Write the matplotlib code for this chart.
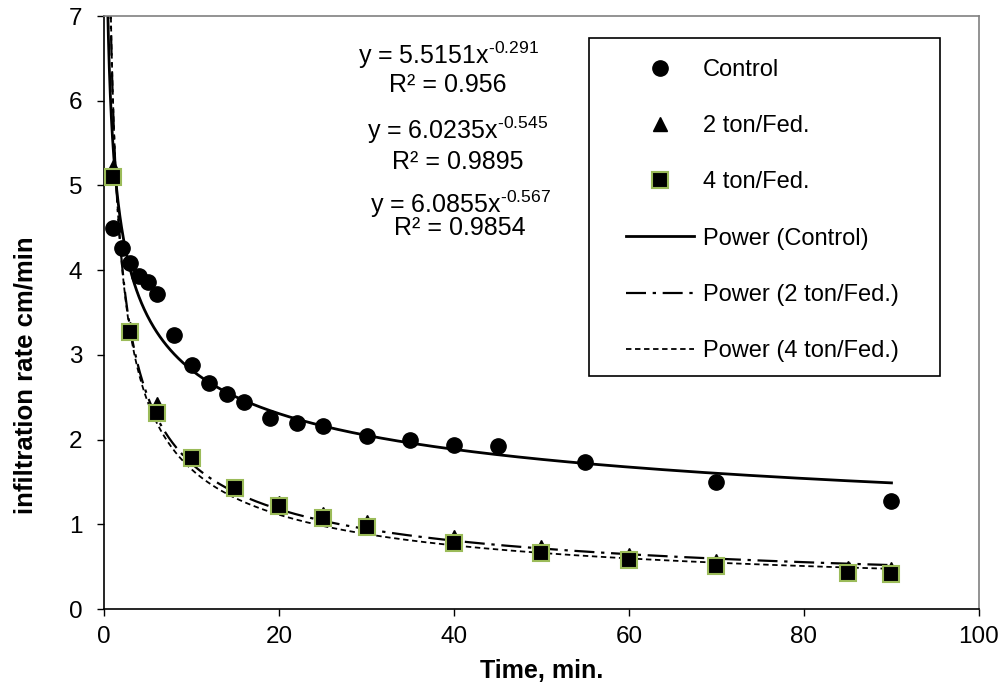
import numpy as np
import matplotlib
matplotlib.use("Agg")
import matplotlib.pyplot as plt
from matplotlib.lines import Line2D
from matplotlib.patches import Rectangle

plt.rcParams['font.family'] = ['Liberation Sans', 'DejaVu Sans']
plt.rcParams['mathtext.fontset'] = 'custom'
plt.rcParams['mathtext.rm'] = 'Liberation Sans'
plt.rcParams['mathtext.default'] = 'regular'

# data
x_control = [1, 2, 3, 4, 5, 6, 8, 10, 12, 14, 16, 19, 22, 25, 30, 35, 40, 45, 55, 70, 90]
y_control = [4.50, 4.26, 4.09, 3.93, 3.86, 3.72, 3.23, 2.88, 2.67, 2.54, 2.44, 2.26,
             2.20, 2.16, 2.04, 1.99, 1.94, 1.92, 1.73, 1.50, 1.27]

x_treat = [1, 3, 6, 10, 15, 20, 25, 30, 40, 50, 60, 70, 85, 90]
y_2ton = [5.22, 3.30, 2.42, 1.80, 1.45, 1.25, 1.12, 1.03, 0.85, 0.73, 0.64, 0.57, 0.49, 0.47]
y_4ton = [5.10, 3.27, 2.31, 1.78, 1.43, 1.22, 1.08, 0.97, 0.78, 0.66, 0.58, 0.51, 0.43, 0.41]

# power trendline coefficients (y = a * x^b) as printed on the chart
fit_a = [5.5151, 6.0235, 6.0855]
fit_b = [-0.291, -0.545, -0.567]
fit_r2 = ["0.956", "0.9895", "0.9854"]

series_names = ["Control", "2 ton/Fed.", "4 ton/Fed."]

fig = plt.figure(figsize=(10.05, 6.82), dpi=100)
ax = fig.add_axes([0.1035, 0.107, 0.8706, 0.8695])

# trendlines
xs = np.geomspace(0.3, 90, 400)
line_styles = ['-', (0, (9, 3, 1.5, 3)), (0, (3, 2))]
line_widths = [2.0, 1.6, 1.3]
for a, b, ls, lw in zip(fit_a, fit_b, line_styles, line_widths):
    ax.plot(xs, a * xs ** b, color='black', linestyle=ls, linewidth=lw, zorder=2)

# data points
ax.plot(x_control, y_control, 'o', color='black', markersize=11, zorder=3)
ax.plot(x_treat, y_2ton, '^', color='black', markersize=10, zorder=3)
ax.plot(x_treat, y_4ton, 's', color='black', markeredgecolor='#9BBB59',
        markeredgewidth=1.5, markersize=11, zorder=4)

ax.set_xlim(0, 100)
ax.set_ylim(0, 7)
ax.set_xticks(np.arange(0, 101, 20))
ax.set_yticks(np.arange(0, 8, 1))
ax.tick_params(direction='out', length=5, width=1, labelsize=17.5, top=False, right=False)
ax.tick_params(axis='x', pad=7.5)
ax.tick_params(axis='y', pad=10.5)

for s in ['left', 'bottom']:
    ax.spines[s].set_color('black')
    ax.spines[s].set_linewidth(1.2)
for s in ['top', 'right']:
    ax.spines[s].set_color('#808080')
    ax.spines[s].set_linewidth(1.2)

ax.set_xlabel("Time, min.", fontsize=18, fontweight='bold')
ax.set_ylabel("infiltration rate cm/min", fontsize=18.5, fontweight='bold')
ax.xaxis.set_label_coords(0.5, -0.084)
ax.yaxis.set_label_coords(-0.076, 0.395)

# trendline equations
eq_pos = [(448, 55, 85), (458, 130, 162), (460, 204, 228)]
for (px, py1, py2), a, b, r2 in zip(eq_pos, fit_a, fit_b, fit_r2):
    fx = px / 1005
    ax.text(fx, 1 - py1 / 682, "y = %sx$^{%s}$" % (("%.4f" % a), str(b).replace('-', '\u2010')),
            transform=fig.transFigure, ha='center', va='center', fontsize=18)
    ax.text(fx, 1 - py2 / 682, "R\u00b2 = %s" % r2,
            transform=fig.transFigure, ha='center', va='center', fontsize=18)

# legend
handles = [
    Line2D([], [], linestyle='none', marker='o', color='black', markersize=11),
    Line2D([], [], linestyle='none', marker='^', color='black', markersize=10),
    Line2D([], [], linestyle='none', marker='s', color='black', markeredgecolor='#9BBB59',
           markeredgewidth=1.5, markersize=11),
    Line2D([], [], color='black', linestyle=line_styles[0], linewidth=line_widths[0]),
    Line2D([], [], color='black', linestyle=line_styles[1], linewidth=line_widths[1]),
    Line2D([], [], color='black', linestyle=line_styles[2], linewidth=line_widths[2]),
]
labels = series_names + ["Power (%s)" % n for n in series_names]
ax.legend(handles, labels, loc='upper left', bbox_to_anchor=(626 / 1005, 1 - 59 / 682),
          bbox_transform=fig.transFigure, frameon=False, fontsize=17,
          handlelength=2.9, handletextpad=0.35, labelspacing=1.45, borderpad=0,
          borderaxespad=0)
fig.add_artist(Rectangle((589 / 1005, 1 - 376 / 682), 351 / 1005, 338 / 682,
                         transform=fig.transFigure, fill=False, edgecolor='black', linewidth=1.2))

fig.savefig("out.png", dpi=100)
